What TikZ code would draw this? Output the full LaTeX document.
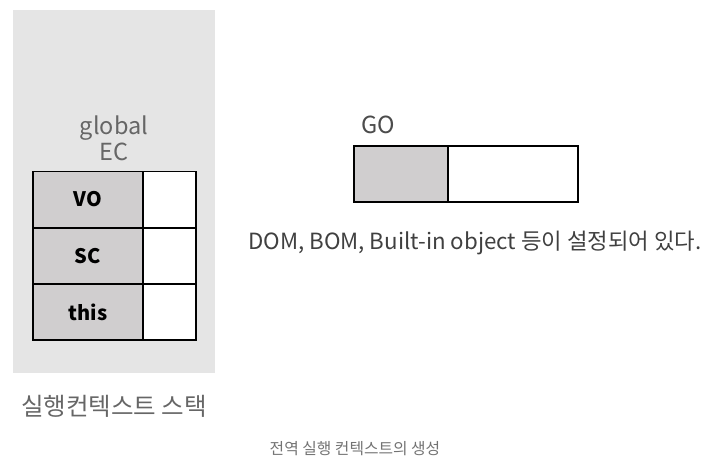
\documentclass[tikz,border=0pt]{standalone}
\usepackage{fontspec}
\setmainfont{Noto Sans CJK KR}
\definecolor{panelgray}{HTML}{E5E5E5}
\definecolor{cellgray}{HTML}{D0CECF}
\definecolor{labelgray}{HTML}{666666}
\tikzset{
  keycell/.style={draw, fill=cellgray, line width=1.3pt, inner sep=0pt, minimum height=56pt},
  valcell/.style={draw, fill=white, line width=1.3pt, inner sep=0pt, minimum height=56pt},
  label/.style={text=labelgray, font=\fontsize{23.5}{26}\selectfont, inner sep=0pt}
}
\begin{document}
\begin{tikzpicture}[x=1pt,y=-1pt]
      \useasboundingbox (0,0) rectangle (709,468);
      \fill[panelgray] (13,10) rectangle (215,373);
      \node[label, align=center] (ec) at (114,138) {global\\EC};
      \node[keycell, minimum width=110pt, font=\fontsize{20}{20}\selectfont\bfseries] (vo) at (88,199.5) {VO};
      \node[keycell, minimum width=110pt, font=\fontsize{20}{20}\selectfont\bfseries] (sc) at (88,256) {SC};
      \node[keycell, minimum width=110pt, font=\fontsize{20}{20}\selectfont\bfseries] (this) at (88,312) {this};
      \node[valcell, minimum width=53pt] (vov) at (169.5,199.5) {};
      \node[valcell, minimum width=53pt] (scv) at (169.5,256) {};
      \node[valcell, minimum width=53pt] (thisv) at (169.5,312) {};
      \node[label, font=\fontsize{24.5}{27}\selectfont] (stack) at (114,406) {실행컨텍스트 스택};
      \node[text=black!70, font=\fontsize{23.5}{26}\selectfont, inner sep=0pt, anchor=west] (golabel) at (361,125) {GO};
      \node[keycell, minimum width=94pt] (gokey) at (401,174) {};
      \node[valcell, minimum width=130pt] (goval) at (513,174) {};
      \node[text=black!75, font=\fontsize{22.3}{25}\selectfont, inner sep=0pt, anchor=west] (desc) at (248,243) {DOM, BOM, Built-in object 등이 설정되어 있다.};
      \node[text=black!55, font=\fontsize{15.8}{18}\selectfont, inner sep=0pt] (caption) at (355,449) {전역 실행 컨텍스트의 생성};
    \end{tikzpicture}
\end{document}
